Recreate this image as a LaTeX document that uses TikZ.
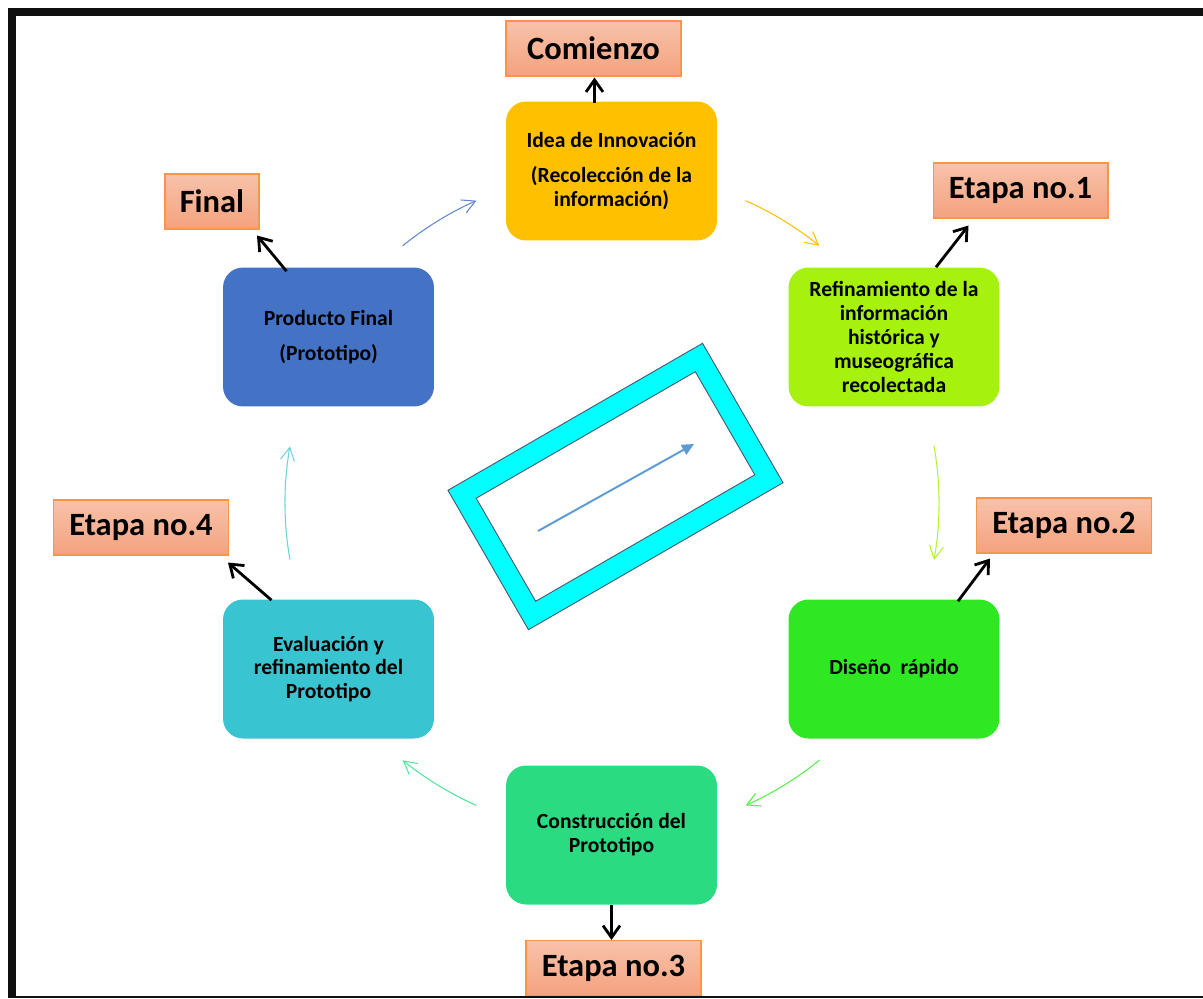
\documentclass[tikz,border=0pt]{standalone}
\usepackage{fontspec}
\setmainfont{Carlito}
\usepackage{xcolor}
\usepackage{tikz}
\usetikzlibrary{arrows.meta,positioning,calc}

\definecolor{ideacol}{RGB}{255,192,0}
\definecolor{refcol}{RGB}{166,242,14}
\definecolor{discol}{RGB}{46,232,34}
\definecolor{concol}{RGB}{42,219,130}
\definecolor{evacol}{RGB}{56,196,208}
\definecolor{procol}{RGB}{68,114,196}
\definecolor{tagtop}{RGB}{248,194,170}
\definecolor{tagbot}{RGB}{244,162,126}
\definecolor{tagline}{RGB}{247,150,70}
\definecolor{framecol}{RGB}{15,15,15}
\definecolor{cyanframe}{RGB}{0,255,255}
\definecolor{slate}{RGB}{68,84,106}
\definecolor{midarrow}{RGB}{91,155,213}

\begin{document}
\begin{tikzpicture}[x=0.02cm, y=-0.02cm,
    phase/.style={rectangle, rounded corners=0.4cm, minimum width=4.22cm, minimum height=2.78cm, inner sep=0pt, align=center, font=\fontsize{12.3}{13.6}\selectfont\bfseries},
    ideaphase/.style={phase, fill=ideacol},
    refphase/.style={phase, fill=refcol},
    disphase/.style={phase, fill=discol},
    conphase/.style={phase, fill=concol},
    evaphase/.style={phase, fill=evacol},
    prophase/.style={phase, fill=procol},
    tagbox/.style={rectangle, draw=tagline, line width=0.6pt, top color=tagtop, bottom color=tagbot, minimum width=3.5cm, minimum height=1.1cm, inner sep=0pt, font=\fontsize{18.5}{20}\selectfont\bfseries},
    % Edge styles
    tagedge/.style={black, line width=1.6pt, -{Straight Barb[length=2.4mm, width=3.4mm]}},
    cycleedge/.style={line width=0.6pt, -{Straight Barb[length=2.6mm, width=2.8mm]}},
    midedge/.style={midarrow, line width=1.1pt, -{Triangle[length=2.4mm, width=2.2mm]}},
    ]
    \useasboundingbox (0,0) rectangle (1203,998);

    % Stages of the cycle
    \node[ideaphase] (idea) at (611.5,171) {Idea de Innovación\\[0.22cm](Recolección de la\\información)};
    \node[refphase] (refin) at (894,337) {Refinamiento de la\\información\\histórica y\\museográfica\\recolectada};
    \node[disphase] (diseno) at (894,669) {Diseño\ \ rápido};
    \node[conphase] (constr) at (611.5,835) {Construcción del\\Prototipo};
    \node[evaphase] (evalu) at (328.5,669) {Evaluación y\\refinamiento del\\Prototipo};
    \node[prophase] (producto) at (328.5,337) {Producto Final\\[0.22cm](Prototipo)};

    % Stage labels
    \node[tagbox] (comienzo) at (593.5,48.5) {Comienzo};
    \node[tagbox] (etapa1) at (1020.5,190.5) {Etapa no.1};
    \node[tagbox] (etapa2) at (1064,525.5) {Etapa no.2};
    \node[tagbox] (etapa3) at (613.5,968) {Etapa no.3};
    \node[tagbox] (etapa4) at (141,527.5) {Etapa no.4};
    \node[tagbox, minimum width=1.88cm] (final) at (212,201.5) {Final};

    % Arrows from stages to labels
    \draw[tagedge] ($(idea.north)+(-17,2)$) -- ($(comienzo.south)+(1,1)$);
    \draw[tagedge] ($(refin.north)+(42,0)$) -- ($(etapa1.south)+(-52,7)$);
    \draw[tagedge] ($(diseno.north)+(64,2)$) -- ($(etapa2.south)+(-74,5)$);
    \draw[tagedge] (constr.south) -- (constr.south |- etapa3.north);
    \draw[tagedge] ($(evalu.north)+(-57,1)$) -- ($(etapa4.south)+(87,7)$);
    \draw[tagedge] ($(producto.north)+(-42,4)$) -- ($(final.south)+(45,6)$);

    % Thin arcs of the cycle
    \coordinate (hub) at (611,503);
    \foreach \a/\b/\r/\c in {-66/-51/331/ideacol, -10/10/328/refcol!85, 51/66/331/discol!80, 114/129/331/concol!80, 170/190/326/evacol!75, 231/246/331/procol!85}
        \draw[cycleedge, \c] ($(hub)+(\a:\r)$) arc[start angle=\a, end angle=\b, radius=\r];

    % Central frame with arrow
    \begin{scope}[shift={(615.5,486.5)}, rotate=30]
        \draw[slate, fill=cyanframe, even odd rule, line width=0.5pt] (-147,-80.5) rectangle (147,80.5) (-126.5,-59.5) rectangle (126.5,59.5);
    \end{scope}
    \coordinate (tail) at (538,531);
    \coordinate (head) at (694,444);
    \draw[midedge] (tail) -- (head);

    % Outer frame
    \fill[framecol] (8,8) rectangle (1203,16);
    \fill[framecol] (8,8) rectangle (16,998);
    \fill[framecol] (16,996) rectangle (1203,998);
\end{tikzpicture}
\end{document}
